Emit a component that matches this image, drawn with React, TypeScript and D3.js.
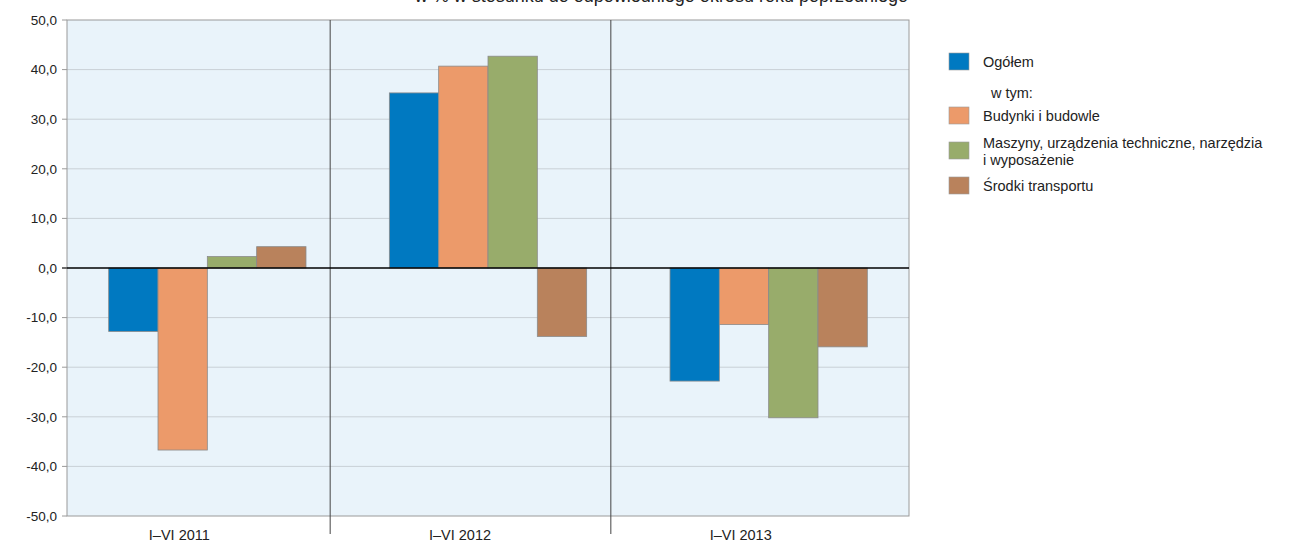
import React from 'react';
import * as d3 from 'd3';

// zmiana w % wobec odpowiedniego okresu roku poprzedniego
const categories = ['I–VI 2011', 'I–VI 2012', 'I–VI 2013'];
const seriesKeys = ['ogolem', 'budynki', 'maszyny', 'transport'];
const seriesColors = ['#0079c1', '#ec9a6a', '#98ac6b', '#b9825c'];

const ogolem = [-12.8, 35.3, -22.8];
const budynki = [-36.7, 40.7, -11.4];
const maszyny = [2.3, 42.7, -30.2];
const transport = [4.3, -13.8, -15.9];

const yTicks = [-50, -40, -30, -20, -10, 0, 10, 20, 30, 40, 50];
const titleText = 'w % w stosunku do odpowiedniego okresu roku poprzedniego';

const width = 1295;
const height = 543;
const margin = { top: 20, right: 386, bottom: 27, left: 67 };
const font = '"Liberation Sans", Arial, sans-serif';

const App = () => {
  const seriesValues = [ogolem, budynki, maszyny, transport];

  const x = d3.scaleBand<string>()
    .domain(categories)
    .range([margin.left, width - margin.right]);

  const x1 = d3.scaleBand<string>()
    .domain(seriesKeys)
    .range([0, x.bandwidth()])
    .paddingOuter(0.845);

  const y = d3.scaleLinear()
    .domain([-50, 50])
    .range([height - margin.bottom, margin.top]);

  const fmt = (v: number) => d3.format('.1f')(v).replace('.', ',').replace('−', '-');

  const plotL = margin.left;
  const plotR = width - margin.right;

  // legend rows
  const legend = [
    { color: seriesColors[0], lines: ['Ogółem'], y: 62 },
    { color: null, lines: ['w tym:'], y: 93 },
    { color: seriesColors[1], lines: ['Budynki i budowle'], y: 116 },
    { color: seriesColors[2], lines: ['Maszyny, urządzenia techniczne, narzędzia', 'i wyposażenie'], y: 151 },
    { color: seriesColors[3], lines: ['Środki transportu'], y: 186 },
  ];

  return (
    <svg width={width} height={height} style={{ position: 'absolute', left: 0, top: 0 }} fontFamily={font}>
      <rect x={0} y={0} width={width} height={height} fill="#fff" />

      <text x={908} y={2} textAnchor="end" fontSize={18} fill="#222">{titleText}</text>

      {/* plot background */}
      <rect x={plotL} y={y(50)} width={plotR - plotL} height={y(-50) - y(50)} fill="#e9f3fa" />

      {/* gridlines */}
      {yTicks.filter(t => t !== 0 && Math.abs(t) !== 50).map(t => (
        <line key={'g' + t} x1={plotL} x2={plotR} y1={y(t)} y2={y(t)} stroke="#c9d0d6" strokeWidth={1} />
      ))}

      {/* bars */}
      {categories.map((c, i) => (
        <g key={c} transform={`translate(${x(c)},0)`}>
          {seriesKeys.map((k, j) => {
            const v = seriesValues[j][i];
            return (
              <rect
                key={k}
                x={x1(k)}
                y={y(Math.max(0, v))}
                width={x1.bandwidth()}
                height={Math.abs(y(v) - y(0))}
                fill={seriesColors[j]}
                stroke="#8a8a8a"
                strokeWidth={0.8}
              />
            );
          })}
        </g>
      ))}

      {/* frame */}
      <rect x={plotL} y={y(50)} width={plotR - plotL} height={y(-50) - y(50)} fill="none" stroke="#9a9a9a" strokeWidth={1} />

      {/* category dividers */}
      {categories.slice(0, -1).map(c => {
        const dx = (x(c) as number) + x.bandwidth() - 17.5;
        return <line key={'d' + c} x1={dx} x2={dx} y1={y(50)} y2={y(-50) + 18} stroke="#444" strokeWidth={1} />;
      })}

      {/* zero line */}
      <line x1={plotL - 5} x2={plotR} y1={y(0)} y2={y(0)} stroke="#000" strokeWidth={1.3} />

      {/* y axis */}
      {yTicks.map(t => (
        <g key={'t' + t}>
          <line x1={plotL - 5} x2={plotL} y1={y(t)} y2={y(t)} stroke="#9a9a9a" />
          <text x={plotL - 10} y={y(t)} dy="0.35em" textAnchor="end" fontSize={13.5} fill="#222">{fmt(t)}</text>
        </g>
      ))}

      {/* category labels */}
      {categories.map(c => (
        <text key={'l' + c} x={(x(c) as number) + x.bandwidth() / 2 - 28} y={y(-50) + 24} textAnchor="middle" fontSize={14.5} fill="#222">{c}</text>
      ))}

      {/* legend */}
      {legend.map(row => (
        <g key={row.lines[0]}>
          {row.color && (
            <rect x={949} y={row.y - 9} width={20} height={17} fill={row.color} stroke="#9a9a9a" strokeWidth={0.6} />
          )}
          {row.lines.map((ln, k) => (
            <text
              key={ln}
              x={row.color ? 983 : 991}
              y={row.y + (k - (row.lines.length - 1) / 2) * 17}
              dy="0.35em"
              fontSize={14.5}
              fill="#222"
            >
              {ln}
            </text>
          ))}
        </g>
      ))}
    </svg>
  );
};

export default App;
